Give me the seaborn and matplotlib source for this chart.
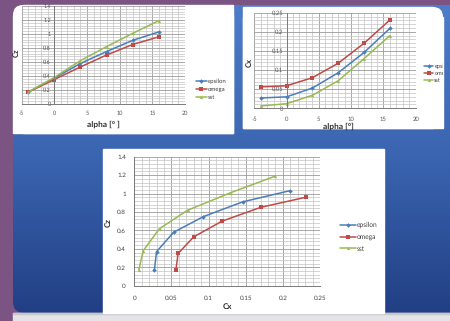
import numpy as np
import pandas as pd
import matplotlib
matplotlib.use("Agg")
import matplotlib.pyplot as plt
import seaborn as sns
from matplotlib.patches import FancyBboxPatch, Rectangle
from matplotlib.ticker import MultipleLocator, FuncFormatter
from matplotlib.colors import LinearSegmentedColormap

# ---------------- data ----------------
alpha = [-4, 0, 4, 8, 12, 16]
series_names = ["epsilon", "omega", "sst"]
cz_epsilon = [0.17, 0.37, 0.58, 0.75, 0.91, 1.03]
cz_omega = [0.17, 0.35, 0.53, 0.70, 0.85, 0.96]
cz_sst = [0.17, 0.38, 0.62, 0.82, 1.01, 1.19]
cx_epsilon = [0.027, 0.030, 0.053, 0.093, 0.146, 0.209]
cx_omega = [0.056, 0.059, 0.080, 0.118, 0.170, 0.231]
cx_sst = [0.006, 0.012, 0.034, 0.072, 0.130, 0.190]

xticks_alpha = [-5, 0, 5, 10, 15, 20]
yticks_cz = [0, 0.2, 0.4, 0.6, 0.8, 1, 1.2, 1.4]
yticks_cx = [0, 0.05, 0.1, 0.15, 0.2, 0.25]

df = pd.DataFrame({
    "alpha": alpha * 3,
    "Cz": cz_epsilon + cz_omega + cz_sst,
    "Cx": cx_epsilon + cx_omega + cx_sst,
    "model": sum([[n] * len(alpha) for n in series_names], []),
})

palette = {"epsilon": "#4A7EBB", "omega": "#BE4B48", "sst": "#98B954"}
markers = {"epsilon": "D", "omega": "s", "sst": "^"}

sns.set_theme(style="white")
plt.rcParams["font.family"] = ["Lato", "DejaVu Sans"]
plt.rcParams["axes.unicode_minus"] = False
plt.rcParams["text.hinting"] = "no_hinting"

W, H = 450, 321
fig = plt.figure(figsize=(4.5, 3.21), dpi=100)


def fr(x0, y0, x1, y1):
    return [x0 / W, 1 - y1 / H, (x1 - x0) / W, (y1 - y0) / H]


# ---------------- slide background ----------------
bg = fig.add_axes([0, 0, 1, 1], zorder=-10)
bg.add_patch(Rectangle((0, 0), W, H, color="#7b5484", zorder=0))
cmap = LinearSegmentedColormap.from_list("slide", ["#4d7cc8", "#3a64b0", "#223f84"])
grad = np.linspace(0, 1, 256)[:, None] * np.ones((1, 8))
bg.add_patch(FancyBboxPatch((13, 5), W - 13, 308, boxstyle="round,pad=0,rounding_size=12",
                            color="#2a4a92", zorder=1, lw=0))
im = bg.imshow(grad, extent=(13, W, 313, 5), cmap=cmap, aspect="auto", zorder=1.5)
clipbox = FancyBboxPatch((13, 5), W - 13 + 20, 308, boxstyle="round,pad=0,rounding_size=12",
                         transform=bg.transData, facecolor="none", edgecolor="none")
im.set_clip_path(clipbox)
bg.add_patch(Rectangle((13, 313), W - 13, 8, color="#e4e4e8", zorder=2))
bg.add_patch(Rectangle((13, 312.5), W - 13, 1, color="#c8c8cc", zorder=2))


def panel(x0, y0, x1, y1, corner=None, r=10):
    if corner is None:
        bg.add_patch(Rectangle((x0, y0), x1 - x0, y1 - y0, color="white", zorder=3))
        return
    bg.add_patch(FancyBboxPatch((x0, y0), x1 - x0, y1 - y0,
                                boxstyle=f"round,pad=0,rounding_size={r}",
                                color="white", zorder=3, lw=0))
    if corner == "tl":
        bg.add_patch(Rectangle((x0 + r, y0), x1 - x0 - r, y1 - y0, color="white", zorder=3))
        bg.add_patch(Rectangle((x0, y0 + r), x1 - x0, y1 - y0 - r, color="white", zorder=3))
    else:
        bg.add_patch(Rectangle((x0, y0), x1 - x0 - r, y1 - y0, color="white", zorder=3))
        bg.add_patch(Rectangle((x0, y0 + r), x1 - x0, y1 - y0 - r, color="white", zorder=3))


P_TL = (13, 5, 233, 133)
P_TR = (243, 7, 443, 128)
P_B = (103, 149, 384, 313)
panel(*P_TL, corner="tl")
panel(*P_TR, corner="tr")
panel(*P_B)
bg.set_xlim(0, W)
bg.set_ylim(H, 0)
bg.axis("off")

fmt = FuncFormatter(lambda v, p: f"{v:g}")


def style(ax, xmaj, xmin, ymaj, ymin, fs, tcol, tlen, ypad, xpad, cross_zero):
    ax.xaxis.set_major_locator(MultipleLocator(xmaj))
    ax.xaxis.set_minor_locator(MultipleLocator(xmin))
    ax.yaxis.set_major_locator(MultipleLocator(ymaj))
    ax.yaxis.set_minor_locator(MultipleLocator(ymin))
    ax.xaxis.set_major_formatter(fmt)
    ax.yaxis.set_major_formatter(fmt)
    ax.grid(True, which="major", color="#9a9a9a", lw=0.6)
    ax.grid(True, which="minor", color="#c4c4c4", lw=0.5)
    ax.set_axisbelow(True)
    ax.set_facecolor("white")
    for s in ["top", "right"]:
        ax.spines[s].set_visible(False)
    for s in ["left", "bottom"]:
        ax.spines[s].set_color("#7a7a7a")
        ax.spines[s].set_linewidth(0.7)
    if cross_zero:
        ax.spines["left"].set_position(("data", 0))
    ax.tick_params(which="major", length=tlen, width=0.5, color="#7a7a7a",
                   labelsize=fs, labelcolor=tcol, direction="out")
    ax.tick_params(axis="y", pad=ypad)
    ax.tick_params(axis="x", pad=xpad)
    ax.tick_params(which="minor", length=1, width=0.4, color="#9a9a9a")


def draw(ax, x, y):
    sns.lineplot(data=df, x=x, y=y, hue="model", style="model", markers=markers,
                 dashes=False, palette=palette, estimator=None, sort=False,
                 lw=1.1, markersize=2.3, markeredgewidth=0, ax=ax, legend=True)
    leg = ax.get_legend()
    handles = leg.legend_handles
    labels = [t.get_text() for t in leg.get_texts()]
    leg.remove()
    return handles, labels


def legend(ax, handles, labels, x, ymid, fs, hl, ls, clip=None):
    leg = ax.legend(handles, labels, loc="center left", bbox_to_anchor=(x / W, 1 - ymid / H),
                    bbox_transform=fig.transFigure, frameon=False, fontsize=fs,
                    handlelength=hl, handletextpad=0.15, labelspacing=ls,
                    borderpad=0, borderaxespad=0, numpoints=1)
    for t in leg.get_texts():
        t.set_color("#404040")
    if clip is not None:
        x0, y0, x1, y1 = clip
        cp = Rectangle((x0 / W, 1 - y1 / H), (x1 - x0) / W, (y1 - y0) / H,
                       transform=fig.transFigure, facecolor="none", edgecolor="none")
        for t in leg.get_texts():
            t.set_clip_path(cp)
        for h in leg.legend_handles:
            h.set_clip_path(cp)


# ---------------- top-left: Cz vs alpha ----------------
ax1 = fig.add_axes(fr(21.7, 6, 185, 104))
h, l = draw(ax1, "alpha", "Cz")
ax1.set_xlim(-5, 20)
ax1.set_ylim(0, 1.4)
ax1.set_xticks(xticks_alpha)
ax1.set_yticks(yticks_cz)
style(ax1, 5, 1, 0.2, 0.04, 4, "#555555", 1.5, 1, 3, True)
ax1.set_xlabel("alpha [° ]", fontsize=6, fontweight="bold", color="#303030")
ax1.set_ylabel("Cz", fontsize=5.5, fontweight="bold", color="#303030")
ax1.xaxis.set_label_coords(0.498, -0.165)
ax1.yaxis.set_label_coords(-0.012, 0.52)
legend(ax1, h, l, 196, 89.5, 4.3, 1.8, 0.45, clip=P_TL)

# ---------------- top-right: Cx vs alpha ----------------
ax2 = fig.add_axes(fr(254.3, 12.7, 415.7, 108.3))
h, l = draw(ax2, "alpha", "Cx")
ax2.set_xlim(-5, 20)
ax2.set_ylim(0, 0.25)
ax2.set_xticks(xticks_alpha)
ax2.set_yticks(yticks_cx)
style(ax2, 5, 1, 0.05, 0.01, 4.2, "#555555", 1.5, 1, 4.5, True)
ax2.set_xlabel("alpha [°]", fontsize=6, fontweight="bold", color="#303030")
ax2.set_ylabel("Cx", fontsize=5.5, fontweight="bold", color="#303030")
ax2.xaxis.set_label_coords(0.52, -0.15)
ax2.yaxis.set_label_coords(-0.01, 0.48)
legend(ax2, h, l, 424, 73, 4.0, 1.7, 0.3, clip=P_TR)

# ---------------- bottom: Cz vs Cx ----------------
ax3 = fig.add_axes(fr(134.3, 156.7, 320, 285.7))
h, l = draw(ax3, "Cx", "Cz")
ax3.set_xlim(0, 0.25)
ax3.set_ylim(0, 1.4)
ax3.set_xticks(yticks_cx)
ax3.set_yticks(yticks_cz)
style(ax3, 0.05, 0.01, 0.2, 0.04, 4.6, "#404040", 2.5, 3.5, 4.5, False)
ax3.set_xlabel("Cx", fontsize=5.8, fontweight="bold", color="#303030")
ax3.set_ylabel("Cz", fontsize=5.8, fontweight="bold", color="#303030")
ax3.xaxis.set_label_coords(0.5, -0.135)
ax3.yaxis.set_label_coords(-0.12, 0.49)
legend(ax3, h, l, 340, 237, 4.8, 2.4, 0.8)

fig.savefig("out.png", dpi=100)
